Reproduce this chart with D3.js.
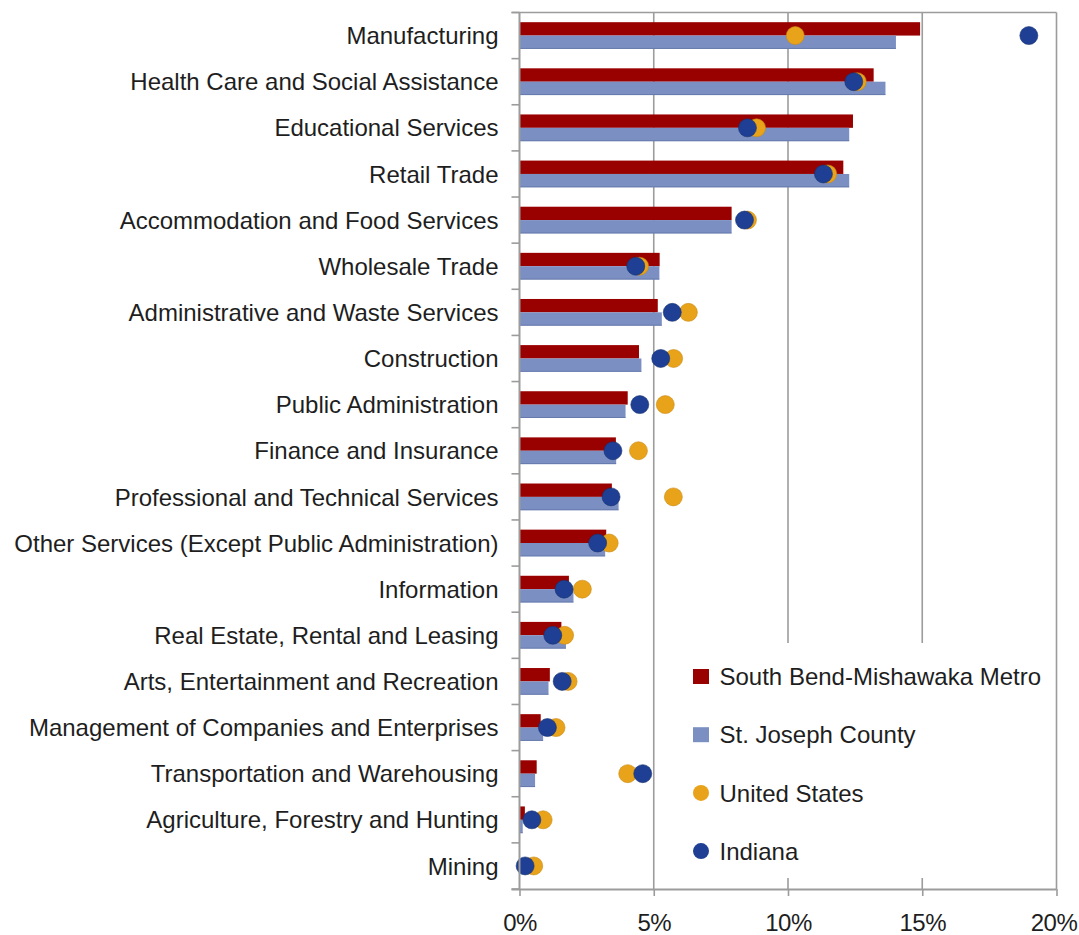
<!DOCTYPE html>
<html>
<head>
<meta charset="utf-8">
<script src="https://cdn.jsdelivr.net/npm/d3@7"></script>
<style>
  html, body { margin: 0; padding: 0; background: #fff; }
  svg { display: block; }
  text { font-family: "Liberation Sans", Arial, Helvetica, sans-serif; fill: #1e1e1e; }
</style>
</head>
<body>
<svg id="chart" width="1079" height="935"></svg>
<script>
const categories = [
  "Manufacturing",
  "Health Care and Social Assistance",
  "Educational Services",
  "Retail Trade",
  "Accommodation and Food Services",
  "Wholesale Trade",
  "Administrative and Waste Services",
  "Construction",
  "Public Administration",
  "Finance and Insurance",
  "Professional and Technical Services",
  "Other Services (Except Public Administration)",
  "Information",
  "Real Estate, Rental and Leasing",
  "Arts, Entertainment and Recreation",
  "Management of Companies and Enterprises",
  "Transportation and Warehousing",
  "Agriculture, Forestry and Hunting",
  "Mining"
];
const metroValues   = [14.92, 13.19, 12.42, 12.06, 7.90, 5.22, 5.15, 4.45, 4.03, 3.59, 3.44, 3.23, 1.84, 1.56, 1.13, 0.79, 0.64, 0.20, 0.00];
const countyValues  = [14.02, 13.63, 12.28, 12.28, 7.90, 5.21, 5.30, 4.54, 3.95, 3.60, 3.69, 3.19, 2.01, 1.73, 1.08, 0.88, 0.58, 0.12, 0.00];
const usValues      = [10.27, 12.58, 8.83, 11.48, 8.49, 4.47, 6.29, 5.74, 5.43, 4.43, 5.73, 3.34, 2.34, 1.68, 1.81, 1.36, 4.03, 0.88, 0.53];
const indianaValues = [18.97, 12.45, 8.49, 11.32, 8.38, 4.33, 5.69, 5.26, 4.48, 3.48, 3.41, 2.91, 1.66, 1.24, 1.59, 1.04, 4.59, 0.46, 0.21];
const seriesNames = ["South Bend-Mishawaka Metro", "St. Joseph County", "United States", "Indiana"];
const xTicks = [0, 5, 10, 15, 20];

const colors = {
  metro: "#990000",
  county: "#7b8fc3",
  us: "#e8a31b",
  indiana: "#1e3f93"
};

const svg = d3.select("#chart");
const pLeft = 519.5, pRight = 1056.5, pTop = 12.5, pBottom = 889;

const x = d3.scaleLinear().domain([0, 20]).range([pLeft, pRight]);
const y = d3.scaleBand().domain(categories).range([pTop, pBottom]).padding(0);

const gridColor = "#9c9c9c";

// vertical gridlines
svg.append("g")
  .selectAll("line")
  .data(xTicks.slice(1))
  .join("line")
  .attr("x1", d => x(d)).attr("x2", d => x(d))
  .attr("y1", pTop).attr("y2", pBottom)
  .attr("stroke", gridColor).attr("stroke-width", 1.6);

// top border
svg.append("line")
  .attr("x1", pLeft - 8).attr("x2", pRight)
  .attr("y1", pTop).attr("y2", pTop)
  .attr("stroke", gridColor).attr("stroke-width", 1.6);

// legend background (covers gridlines)
const legendG = svg.append("g");
legendG.append("rect")
  .attr("x", 678).attr("y", 643)
  .attr("width", 372).attr("height", 235)
  .attr("fill", "#fff");

// bars
const barH = y.bandwidth() * 0.29;
const rows = categories.map((c, i) => ({
  cat: c, metro: metroValues[i], county: countyValues[i], us: usValues[i], indiana: indianaValues[i]
}));

const barsG = svg.append("g");
barsG.selectAll("rect.metro")
  .data(rows).join("rect").attr("class", "metro")
  .attr("x", x(0))
  .attr("y", d => y(d.cat) + y.bandwidth() / 2 - barH)
  .attr("width", d => x(d.metro) - x(0))
  .attr("height", barH)
  .attr("fill", colors.metro);
barsG.selectAll("rect.county")
  .data(rows).join("rect").attr("class", "county")
  .attr("x", x(0))
  .attr("y", d => y(d.cat) + y.bandwidth() / 2)
  .attr("width", d => x(d.county) - x(0))
  .attr("height", barH)
  .attr("fill", colors.county);
barsG.selectAll("line.countyEdge")
  .data(rows.filter(d => d.county > 0)).join("line").attr("class", "countyEdge")
  .attr("x1", x(0)).attr("x2", d => x(d.county))
  .attr("y1", d => y(d.cat) + y.bandwidth() / 2 + barH - 0.5)
  .attr("y2", d => y(d.cat) + y.bandwidth() / 2 + barH - 0.5)
  .attr("stroke", "#5a6d9e").attr("stroke-width", 1).attr("opacity", 0.6);

// dots
const r = 9;
const dotsG = svg.append("g");
dotsG.selectAll("circle.us")
  .data(rows).join("circle").attr("class", "us")
  .attr("cx", d => x(d.us))
  .attr("cy", d => y(d.cat) + y.bandwidth() / 2)
  .attr("r", r)
  .attr("fill", colors.us)
  .attr("stroke", "#c98a10").attr("stroke-width", 0.6);
dotsG.selectAll("circle.indiana")
  .data(rows).join("circle").attr("class", "indiana")
  .attr("cx", d => x(d.indiana))
  .attr("cy", d => y(d.cat) + y.bandwidth() / 2)
  .attr("r", r)
  .attr("fill", colors.indiana)
  .attr("stroke", "#17306f").attr("stroke-width", 0.6);

// left axis (labels at band centers, ticks at band boundaries)
const yAxis = d3.axisLeft(y).tickSize(0).tickPadding(21);
const yAxisG = svg.append("g")
  .attr("transform", `translate(${pLeft},0)`)
  .call(yAxis);
yAxisG.select(".domain").remove();
yAxisG.selectAll("text")
  .attr("font-size", 24)
  .attr("dy", "0.36em")
  .style("fill", "#1e1e1e")
  .style("font-family", "'Liberation Sans', Arial, Helvetica, sans-serif");

// boundary ticks
const boundaries = categories.map(c => y(c)).concat([pBottom]);
svg.append("g").selectAll("line")
  .data(boundaries).join("line")
  .attr("x1", pLeft - 8).attr("x2", pLeft)
  .attr("y1", d => d).attr("y2", d => d)
  .attr("stroke", gridColor).attr("stroke-width", 1.6);

// left axis line
svg.append("line")
  .attr("x1", pLeft).attr("x2", pLeft)
  .attr("y1", pTop).attr("y2", pBottom)
  .attr("stroke", gridColor).attr("stroke-width", 2);

// bottom axis
const xAxis = d3.axisBottom(x)
  .tickValues(xTicks)
  .tickFormat(d => d + "%")
  .tickSizeInner(7).tickSizeOuter(0).tickPadding(18);
const xAxisG = svg.append("g")
  .attr("transform", `translate(0,${pBottom})`)
  .call(xAxis);
xAxisG.select(".domain")
  .attr("d", `M${pLeft - 8},0.5H${pRight}`)
  .attr("stroke", gridColor).attr("stroke-width", 2);
xAxisG.selectAll(".tick line").attr("stroke", gridColor).attr("stroke-width", 1.6);
xAxisG.selectAll("text")
  .attr("font-size", 24)
  .style("fill", "#1e1e1e")
  .style("font-family", "'Liberation Sans', Arial, Helvetica, sans-serif")
  .attr("letter-spacing", -0.5)
  .attr("dx", d => d === 20 ? -3 : 0);

// legend
const legendColors = [colors.metro, colors.county, colors.us, colors.indiana];
const legendShapes = ["rect", "rect", "circle", "circle"];
const legendY0 = 676.5, legendStep = 58.2, markerX = 701, textX = 719.5;
seriesNames.forEach((name, i) => {
  const cy = legendY0 + i * legendStep;
  if (legendShapes[i] === "rect") {
    legendG.append("rect")
      .attr("x", markerX - 8).attr("y", cy - 7.5)
      .attr("width", 16).attr("height", 15)
      .attr("fill", legendColors[i]);
  } else {
    legendG.append("circle")
      .attr("cx", markerX).attr("cy", cy)
      .attr("r", 8)
      .attr("fill", legendColors[i]);
  }
  legendG.append("text")
    .attr("x", textX).attr("y", cy)
    .attr("dy", "0.36em")
    .attr("font-size", 24)
    .text(name);
});
</script>
</body>
</html>
